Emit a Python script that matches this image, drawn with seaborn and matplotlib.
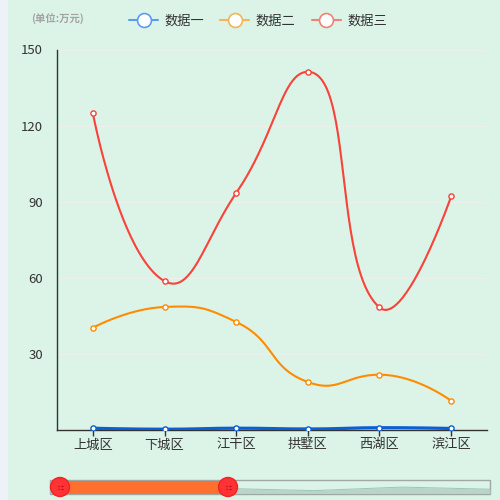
import matplotlib
matplotlib.use("Agg")
import matplotlib.pyplot as plt
from matplotlib.patches import Rectangle, Circle
from matplotlib.lines import Line2D
import numpy as np
import pandas as pd
import seaborn as sns

# 数据
districts = ["上城区", "下城区", "江干区", "拱墅区", "西湖区", "滨江区"]
data1 = [0.7, 0.3, 0.7, 0.4, 0.9, 0.6]
data2 = [40.3, 48.5, 42.6, 18.9, 21.8, 11.5]
data3 = [124.9, 58.7, 93.4, 141.2, 48.3, 92.1]
series_names = ["数据一", "数据二", "数据三"]
yticks = [30, 60, 90, 120, 150]

colors = ["#0a5fd6", "#ff8c00", "#f8423a"]
legend_colors = ["#5b9bf0", "#f5b556", "#f0827a"]
widths = [2.3, 1.5, 1.5]

sns.set_theme(style="white")
plt.rcParams['font.family'] = ['Noto Sans CJK SC', 'DejaVu Sans']

BG = "#dbf4e7"
fig = plt.figure(figsize=(5, 5), dpi=100, facecolor="#eef2f8")
fig.patches.append(Rectangle((8 / 500, 0), 1, 1, transform=fig.transFigure,
                             facecolor=BG, edgecolor="none", zorder=-10))

ax = fig.add_axes([57 / 500, 1 - 430 / 500, 430 / 500, 380.5 / 500])
ax.set_facecolor(BG)

# 平滑曲线 (仿 echarts smooth=0.5 的贝塞尔控制点), 在像素空间计算
px_x, px_y = 72.0, 380.5 / 150


def clip_box(c, a, b):
    lo = np.minimum(a, b)
    hi = np.maximum(a, b)
    return np.minimum(np.maximum(c, lo), hi)


def smooth_curve(xs, ys, smooth=0.5, n=50):
    pts = np.column_stack([np.asarray(xs, float) * px_x, np.asarray(ys, float) * px_y])
    m = len(pts)
    t = np.linspace(0, 1, n)[:, None]
    out = [pts[:1]]
    cp0 = pts[0].copy()
    for i in range(1, m):
        p = pts[i]
        if i == m - 1:
            cp1 = p.copy()
            nxt_cp = p.copy()
        else:
            prev, nxt = pts[i - 1], pts[i + 1]
            v = nxt - prev
            len_prev = np.linalg.norm(p - prev)
            len_next = np.linalg.norm(nxt - p)
            r = len_next / (len_next + len_prev)
            # 前侧控制点不超过前一个点, 后侧按同一切线重算
            cp1 = clip_box(p - v * smooth * (1 - r), prev, p)
            nxt_cp = p + (p - cp1) * len_next / len_prev
        p0 = pts[i - 1]
        seg = ((1 - t) ** 3) * p0 + 3 * ((1 - t) ** 2) * t * cp0 + 3 * (1 - t) * t ** 2 * cp1 + t ** 3 * p
        out.append(seg[1:])
        cp0 = nxt_cp
    out = np.vstack(out)
    return out[:, 0] / px_x, out[:, 1] / px_y


xpos = np.arange(len(districts))
for name, vals, c, lw in zip(series_names, [data1, data2, data3], colors, widths):
    cx, cy = smooth_curve(xpos, vals)
    sns.lineplot(x=cx, y=cy, ax=ax, color=c, lw=lw, sort=False, estimator=None, zorder=3)
    ax.scatter(xpos, vals, s=14, facecolor="white", edgecolor=c, linewidths=1.0, zorder=4)

ax.set_xlim(-0.5, len(districts) - 0.5)
ax.set_ylim(0, 150)
ax.set_yticks(yticks)
ax.set_yticklabels([str(v) for v in yticks])
ax.set_xticks(xpos)
ax.set_xticklabels(districts)
for y in yticks:
    ax.axhline(y, color="#ecf0ea", lw=1, zorder=1)
for s in ["top", "right"]:
    ax.spines[s].set_visible(False)
for s in ["left", "bottom"]:
    ax.spines[s].set_color("#333333")
    ax.spines[s].set_linewidth(1)
ax.tick_params(axis="y", length=0, pad=10, labelsize=9.5, labelcolor="#333333")
ax.tick_params(axis="x", length=4, width=1, color="#333333", pad=2,
               labelsize=9.5, labelcolor="#333333", bottom=True)

# 图例
handles = [Line2D([0], [0], color=lc, lw=1.5, marker="o", markersize=10,
                  markerfacecolor="white", markeredgecolor=lc, markeredgewidth=1.2)
           for lc in legend_colors]
fig.legend(handles, series_names, loc="center", bbox_to_anchor=(258 / 500, 1 - 21 / 500),
           ncol=3, frameon=False, fontsize=9.5, handlelength=2.2, handletextpad=0.5,
           columnspacing=1.2, labelcolor="#333333")

fig.text(58 / 500, 1 - 19 / 500, "(单位:万元)", ha="center", va="center",
         fontsize=7.5, color="#a3a3a3", fontweight="bold")

# 底部 dataZoom 滑块
sax = fig.add_axes([50 / 500, 1 - 494 / 500, 440 / 500, 14 / 500])
sax.set_xlim(0, 440)
sax.set_ylim(0, 14)
sax.axis("off")
sax.add_patch(Rectangle((0, 0), 440, 14, facecolor="none", edgecolor="#a0a8a5", lw=1.0,
                        clip_on=False))
sx = np.linspace(0, 440, len(data1))
sy = 2 + (np.array(data1) - 0.2) * 7
sax.fill_between(sx, 0.5, sy, color="#b3d3c6", alpha=0.9, lw=0)
sax.plot(sx, sy, color="#9fc4b5", lw=0.7)
sax.add_patch(Rectangle((10, 0.5), 168, 13, facecolor="#ff6f2d", edgecolor="none", zorder=3))
for hx in [10, 178]:
    sax.add_patch(Circle((hx, 7), 9.5, facecolor="#ff3333", edgecolor="#f22222",
                         zorder=5, clip_on=False))
    for dy in [8.5, 5.5]:
        sax.plot([hx - 2.5, hx - 0.8], [dy, dy], color="#c8102e", lw=0.8, zorder=6)
        sax.plot([hx + 0.8, hx + 2.5], [dy, dy], color="#c8102e", lw=0.8, zorder=6)

fig.savefig("out.png", dpi=100, facecolor=fig.get_facecolor())
